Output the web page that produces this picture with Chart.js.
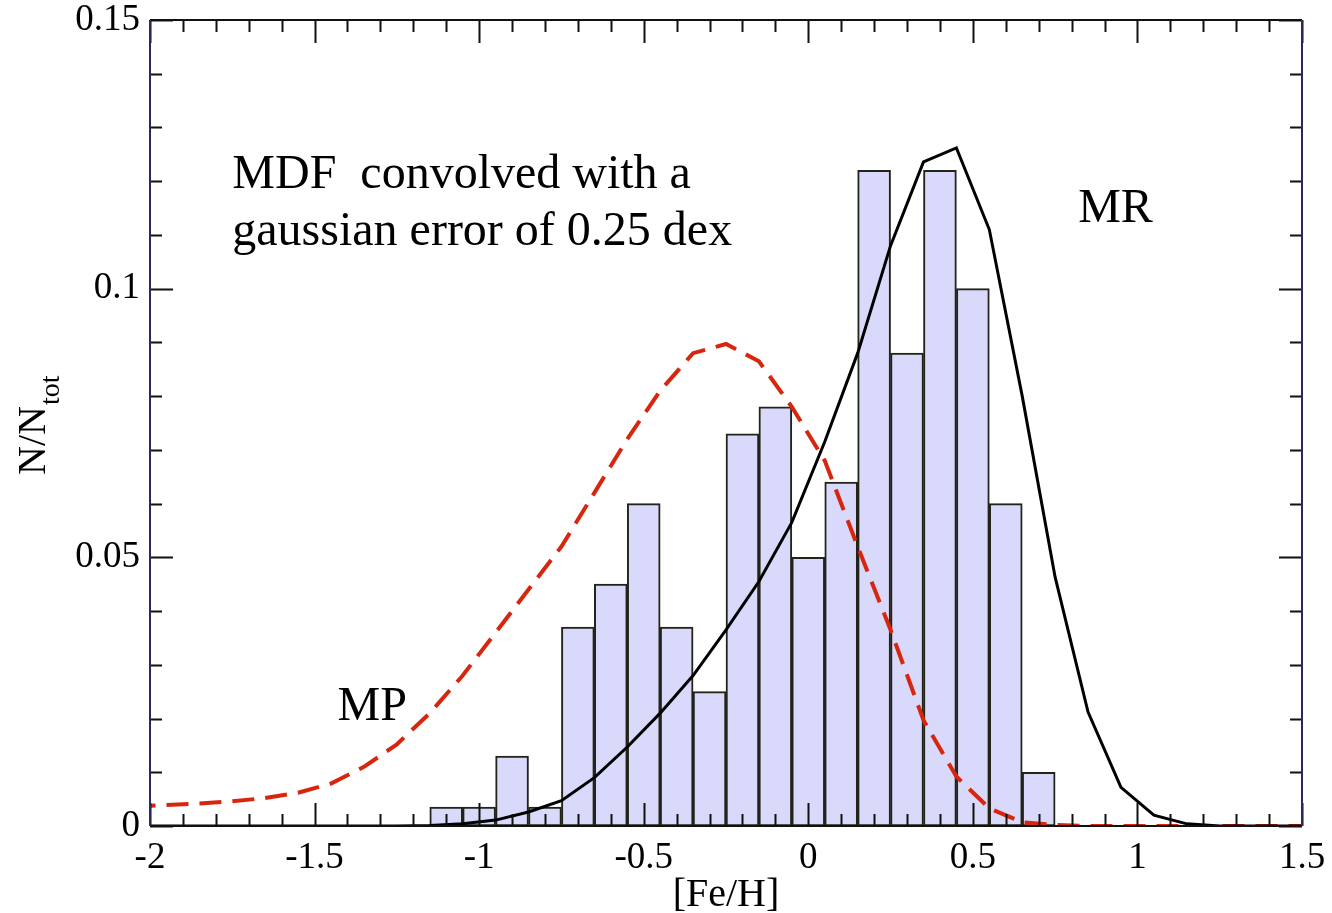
<!DOCTYPE html>
<html lang="en">
<head>
    <meta charset="UTF-8">
    <title>MDF [Fe/H]</title>
    <script src="https://cdn.jsdelivr.net/npm/chart.js"></script>
    <style>
        body { margin: 0; background: #fff; }
        .wrap { width: 1332px; height: 913px; position: relative; }
    </style>
</head>
<body>
    <div class="wrap">
        <canvas id="mdfChart"></canvas>
    </div>

    <script>
        // histogram bins (centres, width 0.1) and fractions
        const binCenters = [-1.1, -1.0, -0.9, -0.8, -0.7, -0.6, -0.5, -0.4, -0.3, -0.2, -0.1, 0.0, 0.1, 0.2, 0.3, 0.4, 0.5, 0.6, 0.7];
        const binFractions = [0.0035, 0.0035, 0.013, 0.0035, 0.037, 0.045, 0.060, 0.037, 0.025, 0.073, 0.078, 0.050, 0.064, 0.122, 0.088, 0.122, 0.100, 0.060, 0.010];

        // model curves sampled on the same [Fe/H] grid
        const fehGrid = [-2.05, -1.95, -1.85, -1.75, -1.65, -1.55, -1.45, -1.35, -1.25, -1.15, -1.05, -0.95, -0.85,
                         -0.75, -0.65, -0.55, -0.45, -0.35, -0.25, -0.15, -0.05, 0.05, 0.15, 0.25, 0.35, 0.45,
                         0.55, 0.65, 0.75, 0.85, 0.95, 1.05, 1.15, 1.25, 1.35, 1.45, 1.55];
        const mrCurve = [0, 0, 0, 0, 0, 0, 0, 0, 0, 0.0001, 0.0004, 0.0011, 0.0026,
                         0.0047, 0.0090, 0.0147, 0.0210, 0.0280, 0.0365, 0.0455, 0.0565, 0.0715, 0.0880, 0.1080, 0.1236, 0.1262,
                         0.1110, 0.0800, 0.0463, 0.0212, 0.0072, 0.0020, 0.0004, 0, 0, 0, 0];
        const mpCurve = [0.0036, 0.0039, 0.0042, 0.0046, 0.0052, 0.0062, 0.0079, 0.0110, 0.0152, 0.0210, 0.0280, 0.0360, 0.0440,
                         0.0520, 0.0620, 0.0720, 0.0810, 0.0880, 0.0897, 0.0865, 0.0780, 0.0680, 0.0520, 0.0365, 0.0197, 0.0092,
                         0.0033, 0.0007, 0.0002, 0, 0, 0, 0, 0, 0, 0, 0];

        const xTicks = [-2, -1.5, -1, -0.5, 0, 0.5, 1, 1.5];
        const yTicks = [0, 0.05, 0.1, 0.15];

        const serif = '"Liberation Serif", "Times New Roman", serif';

        // labels written inside the plot, anchored in data units
        const notes = [
            { text: 'MDF  convolved with a', x: -1.75, y: 0.1187 },
            { text: 'gaussian error of 0.25 dex', x: -1.75, y: 0.1081 },
            { text: 'MR', x: 0.82, y: 0.1124 },
            { text: 'MP', x: -1.43, y: 0.0197 }
        ];

        // frame with inward ticks on all four sides, plus text notes
        const framePlugin = {
            id: 'frame',
            afterDatasetsDraw(chart) {
                const ctx = chart.ctx;
                const xs = chart.scales.x, ys = chart.scales.y;
                const a = chart.chartArea;
                ctx.save();
                ctx.lineWidth = 2;
                ctx.strokeStyle = '#111';

                // x ticks every 0.1, major every 0.5
                for (let i = 0; i <= 35; i++) {
                    const v = -2 + i * 0.1;
                    const px = Math.round(xs.getPixelForValue(v)) + 0.5;
                    const len = (i % 5 === 0) ? 23 : 12;
                    ctx.beginPath();
                    ctx.moveTo(px, a.bottom); ctx.lineTo(px, a.bottom - len);
                    ctx.moveTo(px, a.top); ctx.lineTo(px, a.top + len);
                    ctx.stroke();
                }
                // y ticks every 0.01, major every 0.05
                for (let i = 0; i <= 15; i++) {
                    const v = i * 0.01;
                    const py = Math.round(ys.getPixelForValue(v)) + 0.5;
                    const len = (i % 5 === 0) ? 23 : 12;
                    ctx.beginPath();
                    ctx.moveTo(a.left, py); ctx.lineTo(a.left + len, py);
                    ctx.moveTo(a.right, py); ctx.lineTo(a.right - len, py);
                    ctx.stroke();
                }

                // box
                ctx.lineWidth = 2;
                ctx.strokeStyle = '#111';
                ctx.beginPath();
                ctx.moveTo(a.left, a.bottom); ctx.lineTo(a.right, a.bottom);
                ctx.moveTo(a.left, a.top); ctx.lineTo(a.right, a.top);
                ctx.stroke();
                ctx.strokeStyle = '#2a2a55';
                ctx.beginPath();
                ctx.moveTo(a.left, a.top); ctx.lineTo(a.left, a.bottom);
                ctx.moveTo(a.right, a.top); ctx.lineTo(a.right, a.bottom);
                ctx.stroke();

                // notes
                ctx.fillStyle = '#000';
                ctx.font = '48px ' + serif;
                ctx.textBaseline = 'alphabetic';
                ctx.textAlign = 'left';
                notes.forEach(n => {
                    ctx.fillText(n.text, xs.getPixelForValue(n.x), ys.getPixelForValue(n.y));
                });

                // y axis title N/N_tot (rotated, with subscript)
                ctx.translate(45, 475);
                ctx.rotate(-Math.PI / 2);
                ctx.font = '40px ' + serif;
                ctx.fillText('N/N', 0, 0);
                const w = ctx.measureText('N/N').width;
                ctx.font = '28px ' + serif;
                ctx.fillText('tot', w + 1, 14);
                ctx.restore();
            }
        };

        const ctx = document.getElementById('mdfChart').getContext('2d');
        const mdfChart = new Chart(ctx, {
            type: 'line',
            data: {
                datasets: [
                    {
                        type: 'line',
                        label: 'MR',
                        data: fehGrid.map((x, i) => ({ x: x, y: mrCurve[i] })),
                        borderColor: '#000',
                        borderWidth: 3,
                        pointRadius: 0,
                        tension: 0,
                        order: 0
                    },
                    {
                        type: 'line',
                        label: 'MP',
                        data: fehGrid.map((x, i) => ({ x: x, y: mpCurve[i] })),
                        borderColor: '#d8260e',
                        borderWidth: 4,
                        borderDash: [22, 11],
                        pointRadius: 0,
                        tension: 0,
                        order: 1
                    },
                    {
                        type: 'bar',
                        label: 'MDF',
                        data: binCenters.map((x, i) => ({ x: x, y: binFractions[i] })),
                        backgroundColor: '#d9d9fb',
                        borderColor: '#23231a',
                        borderWidth: 2,
                        borderSkipped: false,
                        barPercentage: 1,
                        categoryPercentage: 1,
                        order: 2
                    }
                ]
            },
            options: {
                responsive: true,
                maintainAspectRatio: false,
                animation: false,
                layout: { padding: { top: 20, right: 30, left: 0, bottom: 0 } },
                plugins: {
                    legend: { display: false },
                    tooltip: { enabled: false }
                },
                scales: {
                    x: {
                        type: 'linear',
                        min: -2,
                        max: 1.5,
                        offset: false,
                        grid: { display: false, drawTicks: false },
                        border: { display: false },
                        afterBuildTicks: s => { s.ticks = xTicks.map(v => ({ value: v })); },
                        afterFit: s => { s.height = 87; s.paddingLeft = 0; s.paddingRight = 0; },
                        ticks: {
                            autoSkip: false,
                            maxRotation: 0,
                            padding: 10,
                            color: '#000',
                            font: { family: serif, size: 37 },
                            callback: v => String(Math.round(v * 10) / 10)
                        },
                        title: {
                            display: true,
                            text: '[Fe/H]',
                            color: '#000',
                            font: { family: serif, size: 40 },
                            padding: { top: 0, bottom: -6 }
                        }
                    },
                    y: {
                        min: 0,
                        max: 0.15,
                        grid: { display: false, drawTicks: false },
                        border: { display: false },
                        afterBuildTicks: s => { s.ticks = yTicks.map(v => ({ value: v })); },
                        afterFit: s => { s.width = 150; s.paddingTop = 0; s.paddingBottom = 0; },
                        ticks: {
                            padding: 10,
                            color: '#000',
                            font: { family: serif, size: 37 },
                            callback: v => String(Math.round(v * 100) / 100)
                        }
                    }
                }
            },
            plugins: [framePlugin]
        });
    </script>
</body>
</html>
